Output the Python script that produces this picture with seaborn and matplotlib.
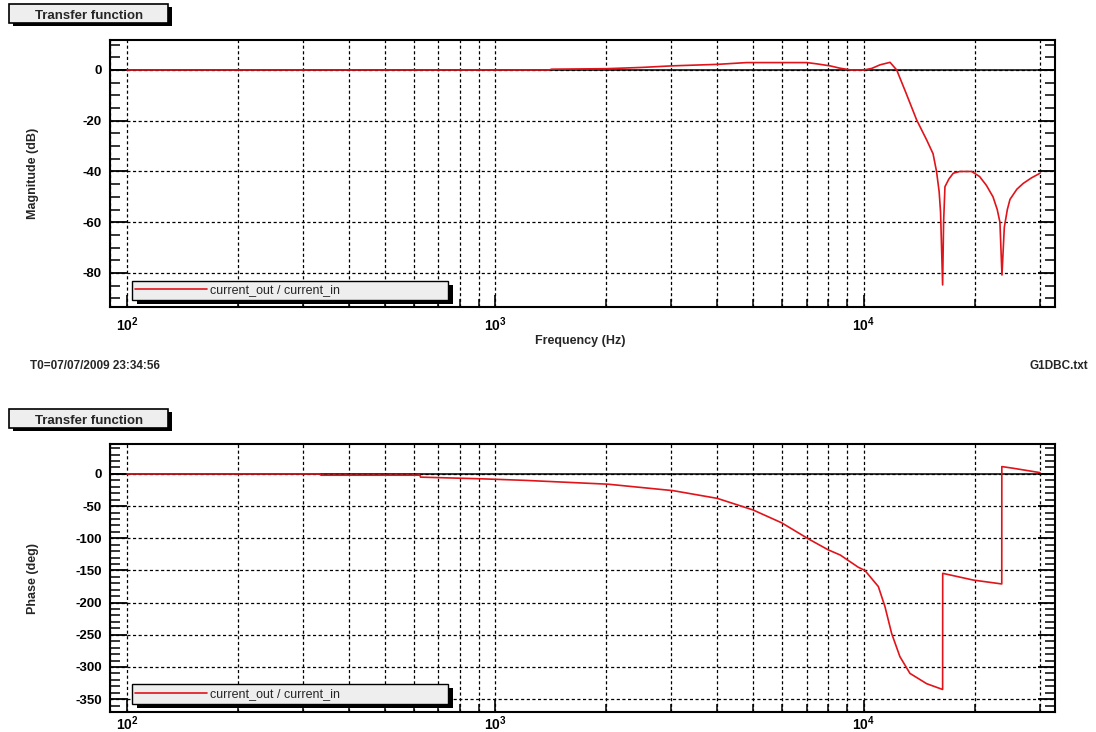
import numpy as np
import matplotlib
matplotlib.use("Agg")
import matplotlib.pyplot as plt
import seaborn as sns
from matplotlib.patches import Rectangle
from matplotlib.ticker import LogLocator, FuncFormatter, MultipleLocator, NullFormatter
from matplotlib.legend_handler import HandlerLine2D
from matplotlib.lines import Line2D
from matplotlib.transforms import IdentityTransform

# magnitude data
freq_mag = [100, 1400, 1420, 2000, 2500, 3000, 4000, 4800, 5500, 7000, 7450, 8100, 8600,
            9200, 10000, 10500, 11050, 11770, 12270, 13000, 13900, 14800, 15400, 15740,
            16000, 16140, 16350, 16450, 16590, 17000, 17470, 18200, 19600, 20600, 21500,
            22400, 23000, 23390, 23690, 24040, 24500, 24910, 26000, 27060, 28500, 30050]
mag_db = [0, 0, 0.3, 0.5, 1.0, 1.6, 2.2, 2.9, 2.9, 2.9, 2.4, 1.6, 0.7,
          0, 0, 0.6, 2.0, 3.0, 0, -9, -19.7, -27.6, -33, -40,
          -48, -56, -84.7, -60, -46, -43, -40.7, -40, -40, -42, -45.5,
          -50, -55, -60, -80.8, -62, -55, -51, -47, -44.7, -42.5, -40.7]

# phase data
freq_ph = [100, 334, 336, 624, 626, 917, 1202, 2023, 3035, 4000, 5000, 5980, 7070, 8000,
           8620, 9650, 10060, 10940, 11400, 11890, 12520, 13330, 14800, 16350, 16360,
           19820, 23660, 23670, 25420, 30050]
phase_deg = [0, 0, -2, -2, -5, -7.6, -10, -16, -26, -38, -56, -76, -101, -118,
             -126, -145, -150, -175, -206, -248, -284, -310, -326, -335, -154.5,
             -165, -171, 11.4, 8.8, 2]

mag_ticks = [0, -20, -40, -60, -80]
phase_ticks = [0, -50, -100, -150, -200, -250, -300, -350]
series_name = "current_out / current_in"

sns.set_style("white")
plt.rcParams["font.family"] = ["Liberation Sans", "DejaVu Sans"]
plt.rcParams["font.weight"] = "bold"
plt.rcParams["axes.unicode_minus"] = False
plt.rcParams["mathtext.fontset"] = "custom"
plt.rcParams["mathtext.bf"] = "Liberation Sans:bold"
plt.rcParams["mathtext.rm"] = "Liberation Sans"

RED = "#e0141a"
W, H = 1096, 732

fig = plt.figure(figsize=(W / 100, H / 100), dpi=100)
ax1 = fig.add_axes([110 / W, 1 - 307 / H, 945 / W, 267 / H])
ax2 = fig.add_axes([110 / W, 1 - 712 / H, 945 / W, 268 / H])


def style(ax, ylim, minor, ticks, leg_y, xpad):
    ax.set_xscale("log")
    ax.set_xlim(89.9, 33000)
    ax.set_ylim(*ylim)
    ax.set_yticks(ticks)
    ax.yaxis.set_minor_locator(MultipleLocator(minor))
    ax.xaxis.set_major_locator(LogLocator(base=10))
    ax.xaxis.set_minor_locator(LogLocator(base=10, subs=np.arange(2, 10)))
    ax.xaxis.set_major_formatter(FuncFormatter(lambda v, p: r"$\mathbf{10^{%d}}$" % round(np.log10(v))))
    ax.xaxis.set_minor_formatter(NullFormatter())
    ax.grid(True, which="major", axis="both", color="black", lw=0.9, ls=(0, (2.5, 2)))
    ax.grid(True, which="minor", axis="x", color="black", lw=0.9, ls=(0, (2.5, 2)))
    ax.axhline(0, color="black", lw=1.1, zorder=1.8)
    for s in ax.spines.values():
        s.set_color("black")
        s.set_linewidth(1.5)
    ax.tick_params(axis="y", which="both", direction="in", left=True, right=True,
                   labelsize=9.5, pad=6, colors="black")
    ax.tick_params(axis="y", which="major", length=12, width=1.3)
    ax.tick_params(axis="y", which="minor", length=7, width=1.1)
    ax.tick_params(axis="x", which="both", direction="in", bottom=True, top=False,
                   labelsize=10, pad=xpad, colors="black")
    ax.tick_params(axis="x", which="major", length=9, width=1.2)
    ax.tick_params(axis="x", which="minor", length=6, width=1.1)
    ax.set_xlabel("")
    ax.set_ylabel("")

    leg = ax.legend(handles=[Line2D([], [], color=RED, lw=1.2, label=series_name)],
                    loc="lower left", bbox_to_anchor=(0.023, leg_y, 0.3347, 0.08),
                    mode="expand", borderaxespad=0, fancybox=False, framealpha=1,
                    edgecolor="black", facecolor="#eeeeee",
                    prop={"weight": "normal", "size": 9}, borderpad=0.3,
                    handlelength=5.7, handletextpad=0.3,
                    handler_map={Line2D: HandlerLine2D(marker_pad=0.58)})
    leg.get_frame().set_linewidth(1.0)
    leg.set_zorder(6)
    return leg


sns.lineplot(x=freq_mag, y=mag_db, ax=ax1, color=RED, lw=1.2, estimator=None, zorder=3)
sns.lineplot(x=freq_ph, y=phase_deg, ax=ax2, color=RED, lw=1.2, estimator=None, zorder=3)

leg1 = style(ax1, (-93.4, 11.8), 5, mag_ticks, 0.026, 6)
leg2 = style(ax2, (-370, 46.5), 10, phase_ticks, 0.03, 2)

# legend shadows
fig.canvas.draw()
for ax, leg in [(ax1, leg1), (ax2, leg2)]:
    bb = leg.get_window_extent()
    sh = Rectangle((bb.x0 + 5, bb.y0 - 4), bb.width, bb.height, transform=IdentityTransform(),
                   facecolor="black", edgecolor="none", zorder=5.5, clip_on=False)
    ax.add_artist(sh)


# "Transfer function" title boxes
def title_box(top):
    x0, x1 = 9.3, 168
    y0, y1 = top, top + 19
    fig.add_artist(Rectangle(((x0 + 4) / W, 1 - (y1 + 3) / H), (x1 - x0) / W, (y1 - y0) / H,
                             transform=fig.transFigure, facecolor="black", edgecolor="none"))
    fig.add_artist(Rectangle((x0 / W, 1 - y1 / H), (x1 - x0) / W, (y1 - y0) / H,
                             transform=fig.transFigure, facecolor="#eeeeee", edgecolor="black", lw=1.2))
    fig.text((x0 + x1) / 2 / W, 1 - ((y0 + y1) / 2 + 1) / H, "Transfer function", ha="center",
             va="center_baseline", fontsize=9.5, weight="bold")


title_box(4)
title_box(409)

fig.text(580.5 / W, 1 - 341 / H, "Frequency (Hz)", ha="center", va="center", fontsize=9, weight="bold")
fig.text(33 / W, 1 - 173 / H, "Magnitude (dB)", ha="center", va="center", rotation=90, fontsize=9, weight="bold")
fig.text(33 / W, 1 - 578 / H, "Phase (deg)", ha="center", va="center", rotation=90, fontsize=9, weight="bold")
fig.text(30 / W, 1 - 366 / H, "T0=07/07/2009 23:34:56", ha="left", va="center", fontsize=8.5, weight="bold")
fig.text(1088 / W, 1 - 366 / H, "G1DBC.txt", ha="right", va="center", fontsize=8.5, weight="bold")

fig.savefig("out.png", dpi=100, facecolor="white")
